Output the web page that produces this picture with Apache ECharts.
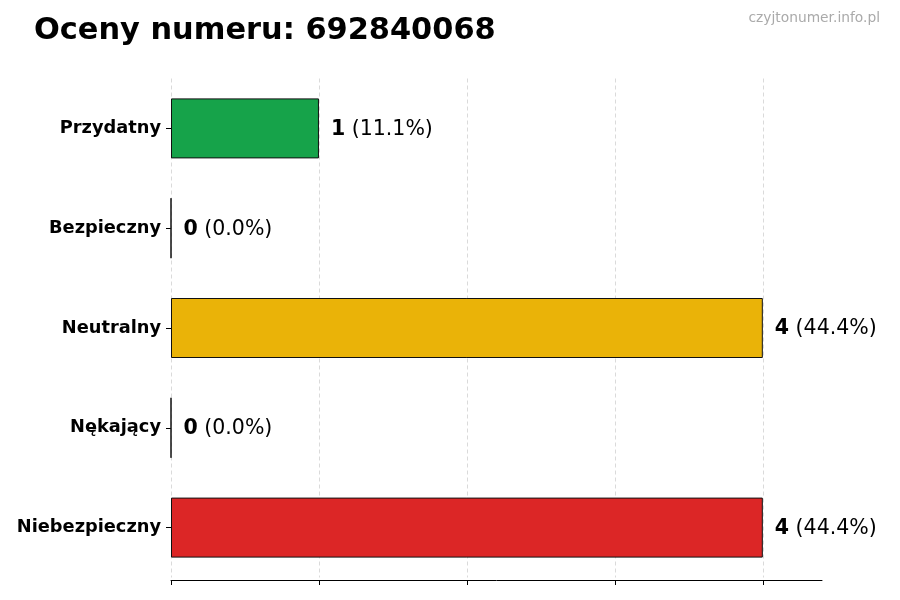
<!DOCTYPE html>
<html><head><meta charset="utf-8">
<script src="https://cdn.jsdelivr.net/npm/echarts@6/dist/echarts.min.js"></script>
<style>html,body{margin:0;padding:0;background:#fff}#c{width:900px;height:600px}</style>
</head><body><div id="c"></div>
<script>
const categories = ['Przydatny', 'Bezpieczny', 'Neutralny', 'Nękający', 'Niebezpieczny'];
const values = [1, 0, 4, 0, 4];
const percents = ['11.1%', '0.0%', '44.4%', '0.0%', '44.4%'];
const xTicks = [0, 1, 2, 3, 4];
const barColors = ['#16a34a', '#16a34a', '#eab308', '#dc2626', '#dc2626'];

const chart = echarts.init(document.getElementById('c'), null, {renderer: 'canvas'});
const font = 'DejaVu Sans';
chart.setOption({
  animation: false,
  backgroundColor: '#ffffff',
  title: [
    {text: 'Oceny numeru: 692840068', left: 29, top: 11,
     textStyle: {fontFamily: font, fontWeight: 'bold', fontSize: 30.4, color: '#000'}},
    {text: 'czyjtonumer.info.pl', right: 15, top: 6,
     textStyle: {fontFamily: font, fontWeight: 'normal', fontSize: 13.8, color: '#aaaaaa'}}
  ],
  grid: {left: 171, top: 78.5, height: 499, width: 651, containLabel: false},
  xAxis: {
    type: 'value', min: 0, max: 4.4, interval: 1,
    offset: 2.5,
    axisLine: {show: true, lineStyle: {color: '#000', width: 1}},
    axisTick: {show: true, length: 5, customValues: xTicks, lineStyle: {color: '#000'}},
    axisLabel: {show: false, customValues: xTicks},
    splitLine: {show: true, lineStyle: {color: '#d0d0d0', type: [4, 3], width: 0.8}}
  },
  yAxis: {
    type: 'category', data: categories, inverse: true,
    axisLine: {show: false},
    axisTick: {show: true, length: 5, alignWithLabel: true, lineStyle: {color: '#000'}},
    axisLabel: {fontFamily: font, fontWeight: 'bold', fontSize: 17.8, color: '#000', margin: 10,
                padding: [2, 0, 0, 0]},
    splitLine: {show: false}
  },
  series: [{
    type: 'bar',
    data: values.map((v, i) => ({value: v, itemStyle: {color: barColors[i]}})),
    barWidth: 60,
    itemStyle: {borderColor: '#111', borderWidth: 1},
    label: {
      show: true, position: 'right', distance: 12, offset: [0, 1],
      formatter: p => '{b|' + values[p.dataIndex] + '}{n| (' + percents[p.dataIndex] + ')}',
      rich: {
        b: {fontFamily: font, fontWeight: 'bold', fontSize: 20.5, color: '#000'},
        n: {fontFamily: font, fontSize: 20.5, color: '#000'}
      }
    }
  }]
});
</script></body></html>
